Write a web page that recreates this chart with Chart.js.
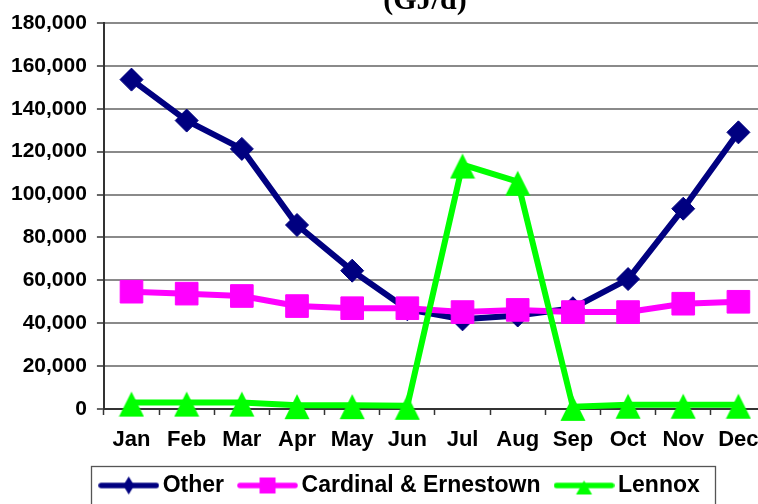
<!DOCTYPE html>
<html><head><meta charset="utf-8">
<script src="https://cdn.jsdelivr.net/npm/chart.js@4/dist/chart.umd.min.js"></script>
<style>
html,body{margin:0;padding:0;overflow:hidden;background:#fff;}
#wrap{position:relative;width:783px;height:512px;}
</style></head><body>
<div id="wrap"><canvas id="c"></canvas></div>
<script>
// ---- data ----
const months = ['Jan','Feb','Mar','Apr','May','Jun','Jul','Aug','Sep','Oct','Nov','Dec'];
const otherValues = [153600, 134500, 121300, 85800, 64500, 46500, 41800, 43600, 47000, 60600, 93400, 129000];
const cardinalValues = [54700, 53800, 52700, 48000, 47000, 47000, 45200, 46200, 45200, 45200, 49100, 50000];
const lennoxValues = [3000, 3000, 3000, 1800, 1800, 1500, 114000, 106000, 1000, 2000, 2000, 2000];
const yTickValues = [0, 20000, 40000, 60000, 80000, 100000, 120000, 140000, 160000, 180000];
const seriesNames = ['Other', 'Cardinal & Ernestown', 'Lennox'];
const seriesColors = ['#000080', '#FF00FF', '#00FF00'];
const titleText = '(GJ/d)';

const SANS = "'Liberation Sans', Arial, sans-serif";
const SERIF = "'Liberation Serif', 'Times New Roman', serif";

// ---- marker images ----
function makeCanvas(w, h) { const c = document.createElement('canvas'); c.width = w; c.height = h; return c; }
function triangleImg(w, h, cy, up, down, color) {
  const c = makeCanvas(w, h); const g = c.getContext('2d');
  g.fillStyle = color; g.beginPath();
  g.moveTo(w / 2, cy - up); g.lineTo(w - 0.5, cy + down); g.lineTo(0.5, cy + down); g.closePath(); g.fill();
  return c;
}
const chartTriangle = triangleImg(26, 30, 15, 11, 14, seriesColors[2]);

const LEG_W = 61, LEG_H = 20, LEG_BOX = 45;
function legendImg(kind, color) {
  const c = makeCanvas(LEG_W, LEG_H); const g = c.getContext('2d');
  const cy = LEG_H / 2, cx = LEG_W / 2;
  g.strokeStyle = color; g.lineWidth = 5.5; g.lineCap = 'round';
  g.beginPath(); g.moveTo(3, cy); g.lineTo(LEG_W - 3, cy); g.stroke();
  g.fillStyle = color; g.beginPath();
  if (kind === 'diamond') { g.moveTo(cx, cy - 9); g.lineTo(cx + 5.5, cy); g.lineTo(cx, cy + 9); g.lineTo(cx - 5.5, cy); g.closePath(); }
  else if (kind === 'square') { g.rect(cx - 8, cy - 8, 16, 16); }
  else { g.moveTo(cx, cy - 5); g.lineTo(cx + 8, cy + 9); g.lineTo(cx - 8, cy + 9); g.closePath(); }
  g.fill();
  return c;
}
const legendImages = [legendImg('diamond', seriesColors[0]), legendImg('square', seriesColors[1]), legendImg('triangle', seriesColors[2])];

// ---- helper plugin: layout nudges + legend frame ----
const framePlugin = {
  id: 'frame',
  afterLayout(chart) {
    const t = chart.titleBlock;
    if (t) { t.left -= 10; t.right -= 10; }
    const lg = chart.legend;
    if (lg) { lg.left += 12; lg.right += 12; }
  },
  afterDraw(chart) {
    const lg = chart.legend; if (!lg || !lg.lineWidths) return;
    const P = lg.options.labels.padding;
    const lw = lg.lineWidths[0];
    const x0 = (lg.left + P + lg.right - lw) / 2;
    const overhang = (LEG_W - LEG_BOX) / 2;
    const left = x0 - overhang - 7.5;
    const right = x0 + lw - P + 15;
    const cy = lg.top + P + 11.5;
    const ctx = chart.ctx;
    ctx.save();
    ctx.strokeStyle = '#555'; ctx.lineWidth = 1.3;
    ctx.strokeRect(Math.round(left) + 0.5, Math.round(cy - 19.5) + 0.5, Math.round(right - left), 50);
    ctx.restore();
  }
};

const common = { fill: false, tension: 0, borderWidth: 6, borderJoinStyle: 'round', clip: false, pointBorderWidth: 1 };

new Chart(document.getElementById('c'), {
  type: 'line',
  data: {
    labels: months,
    datasets: [
      Object.assign({}, common, { label: seriesNames[2], data: lennoxValues, borderColor: seriesColors[2], backgroundColor: seriesColors[2], pointStyle: chartTriangle, pointRadius: 13 }),
      Object.assign({}, common, { label: seriesNames[1], data: cardinalValues, borderColor: seriesColors[1], backgroundColor: seriesColors[1], pointStyle: 'rect', pointRadius: 16 }),
      Object.assign({}, common, { label: seriesNames[0], data: otherValues, borderColor: seriesColors[0], backgroundColor: seriesColors[0], pointStyle: 'rectRot', pointRadius: 11.5 })
    ]
  },
  options: {
    responsive: true,
    maintainAspectRatio: false,
    animation: false,
    events: [],
    layout: { padding: { left: 1, right: 2, top: 0, bottom: 5 } },
    scales: {
      x: {
        type: 'category',
        offset: true,
        grid: { display: true, drawOnChartArea: false, drawTicks: true, tickLength: 6, offset: true, tickColor: '#333', tickWidth: 1.5 },
        border: { display: true, color: '#333', width: 2 },
        ticks: { font: { family: SANS, weight: 'bold', size: 22 }, color: '#000', padding: 12, maxRotation: 0, autoSkip: false },
        afterFit(scale) { scale.height -= 12.4; }
      },
      y: {
        min: yTickValues[0],
        max: yTickValues[yTickValues.length - 1],
        afterBuildTicks(scale) { scale.ticks = yTickValues.map(v => ({ value: v })); },
        grid: {
          color: (c) => (c.tick && c.tick.value === 0) ? '#333' : '#8a8a8a',
          lineWidth: 2, tickLength: 7, tickColor: '#333', tickWidth: 1.5
        },
        border: { display: true, color: '#333', width: 2 },
        ticks: { font: { family: SANS, weight: 'bold', size: 21 }, color: '#000', padding: 10,
          callback: (v) => Number(v).toLocaleString('en-US') }
      }
    },
    plugins: {
      tooltip: { enabled: false },
      title: {
        display: true, text: titleText, fullSize: false, color: '#000',
        font: { family: SERIF, weight: 'bold', size: 30 },
        padding: { top: -17, bottom: 4 }
      },
      legend: {
        display: true, position: 'bottom', align: 'center',
        labels: {
          usePointStyle: true, pointStyleWidth: LEG_BOX, padding: 21, color: '#000',
          font: { family: SANS, weight: 'bold', size: 23 },
          generateLabels: () => seriesNames.map((n, i) => ({
            text: n, pointStyle: legendImages[i], fillStyle: seriesColors[i], strokeStyle: seriesColors[i],
            lineWidth: 0, hidden: false, datasetIndex: 2 - i, fontColor: '#000'
          }))
        }
      }
    }
  },
  plugins: [framePlugin]
});
</script>
</body></html>
